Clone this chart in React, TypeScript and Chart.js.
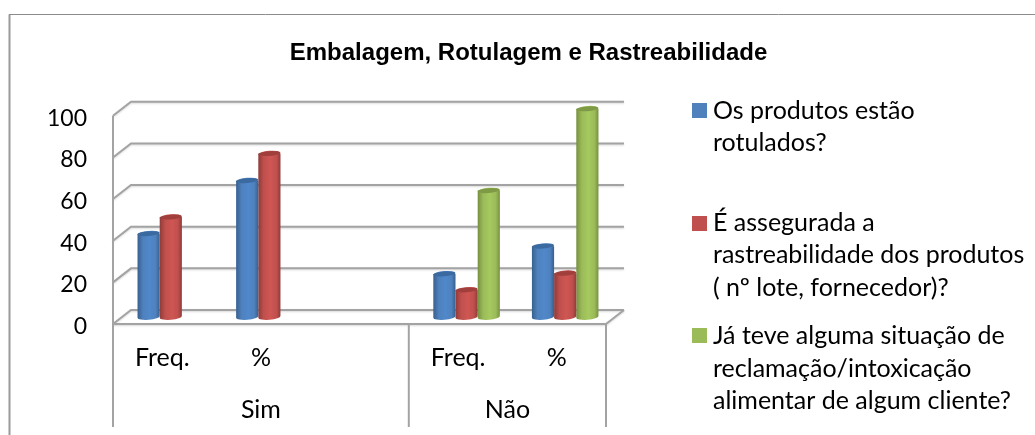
import React, { useEffect, useRef } from "react";
import { Chart, registerables } from "chart.js";

Chart.register(...registerables);

const categories = ["Freq.", "%", "", "Freq.", "%"];
const groupLabels = [
  { text: "Sim", from: 0, to: 2 },
  { text: "Não", from: 3, to: 4 },
];
const produtosRotulados = [40, 65.5, null, 20.7, 34];
const rastreabilidade = [48, 78.5, null, 13, 21];
const reclamacao = [null, null, null, 60.7, 100];
const titleText = "Embalagem, Rotulagem e Rastreabilidade";
const legendLines = [
  ["Os produtos estão", "rotulados?"],
  ["É assegurada a", "rastreabilidade dos produtos", "( nº lote, fornecedor)?"],
  ["Já teve alguma situação de", "reclamação/intoxicação", "alimentar de algum cliente?"],
];
const shades = [
  { fill: "#4F81BD", mid: "#5088cb", edge: "#37608f", cap: "#3b6aa0" },
  { fill: "#C0504D", mid: "#cf5653", edge: "#8f3b39", cap: "#a03f3c" },
  { fill: "#9BBB59", mid: "#a5c95f", edge: "#76913f", cap: "#7f9a45" },
];

const DX = 18;
const DY = -14;
const GRID = "#a3a3a3";
const FONT = "Lato, 'Open Sans', sans-serif";

const decor = {
  id: "decor",
  afterLayout(chart: any) {
    const y = chart.scales.y;
    const orig = y.drawLabels;
    y.drawLabels = function (area: any) {
      chart.ctx.save();
      chart.ctx.translate(0, 2.5);
      orig.call(y, area);
      chart.ctx.restore();
    };
  },
  beforeDatasetsDraw(chart: any) {
    const { ctx, chartArea: a, scales } = chart;
    const y = scales.y;
    ctx.save();
    ctx.strokeStyle = GRID;
    ctx.lineWidth = 2;
    ctx.shadowColor = "rgba(0,0,0,0.15)";
    ctx.shadowBlur = 2;
    ctx.shadowOffsetY = 1;
    y.ticks.forEach((t: any) => {
      const py = y.getPixelForValue(t.value);
      ctx.beginPath();
      ctx.moveTo(a.left, py);
      ctx.lineTo(a.left + DX, py + DY);
      ctx.lineTo(a.right + DX, py + DY);
      ctx.stroke();
    });
    ctx.beginPath();
    ctx.moveTo(a.left, a.bottom);
    ctx.lineTo(a.right, a.bottom);
    ctx.lineTo(a.right + DX, a.bottom + DY);
    ctx.stroke();
    ctx.shadowColor = "transparent";
    // value axis and multi-level category separators
    const x = scales.x;
    const step = (a.right - a.left) / categories.length;
    ctx.lineWidth = 2;
    ctx.beginPath();
    ctx.moveTo(a.left, y.getPixelForValue(100));
    ctx.lineTo(a.left, a.bottom);
    const seps = [groupLabels[0].from, groupLabels[1].from, groupLabels[1].to + 1];
    seps.forEach((i) => {
      const px = x.getPixelForValue(i) - step / 2;
      ctx.moveTo(px, a.bottom);
      ctx.lineTo(px, 427);
    });
    ctx.stroke();
    // outer frame
    ctx.strokeStyle = "#9a9a9a";
    ctx.lineWidth = 2;
    ctx.beginPath();
    ctx.moveTo(9.5, 435);
    ctx.lineTo(9.5, 14.5);
    ctx.stroke();
    ctx.strokeStyle = "#8c8c8c";
    ctx.lineWidth = 1;
    ctx.beginPath();
    ctx.moveTo(9, 14.5);
    ctx.lineTo(1035, 14.5);
    ctx.stroke();
    ctx.restore();
  },
  beforeDatasetDraw(chart: any, args: any) {
    const { ctx } = chart;
    const meta = args.meta;
    const s = shades[args.index];
    ctx.save();
    ctx.translate(DX / 2 - 0.5, DY / 2);
    meta.data.forEach((bar: any, i: number) => {
      const value = chart.data.datasets[args.index].data[i];
      if (value === null || value === undefined) return;
      const { x, y, base, width } = bar.getProps(["x", "y", "base", "width"], true);
      const l = x - width / 2;
      const r = x + width / 2;
      const rx = width / 2;
      const ry = 2.8;
      const g = ctx.createLinearGradient(l, 0, r, 0);
      g.addColorStop(0, s.edge);
      g.addColorStop(0.25, s.fill);
      g.addColorStop(0.55, s.mid);
      g.addColorStop(0.82, s.fill);
      g.addColorStop(1, s.edge);
      ctx.fillStyle = g;
      ctx.beginPath();
      ctx.moveTo(l, y);
      ctx.lineTo(l, base);
      ctx.ellipse(x, base, rx, ry, -0.08, Math.PI, 0, true);
      ctx.lineTo(r, y);
      ctx.closePath();
      ctx.fill();
      ctx.fillStyle = g;
      ctx.beginPath();
      ctx.ellipse(x, y, rx, ry, -0.08, 0, Math.PI * 2);
      ctx.fill();
      ctx.fillStyle = s.cap;
      ctx.beginPath();
      ctx.ellipse(x, y, rx - 1, ry - 0.4, -0.08, 0, Math.PI * 2);
      ctx.fill();
    });
    ctx.restore();
    return false;
  },
  afterDraw(chart: any) {
    const { ctx, scales } = chart;
    const x = scales.x;
    ctx.save();
    ctx.fillStyle = "#000";
    ctx.textBaseline = "alphabetic";
    ctx.font = `25px ${FONT}`;
    ctx.textAlign = "center";
    groupLabels.forEach((g) => {
      const cx = (x.getPixelForValue(g.from) + x.getPixelForValue(g.to)) / 2;
      ctx.fillText(g.text, cx, 418);
    });
    ctx.textAlign = "left";
    const swatchY = [103, 216, 328];
    const baselines = [
      [119, 151],
      [231, 263, 296],
      [344, 377, 409],
    ];
    legendLines.forEach((lines, i) => {
      ctx.fillStyle = shades[i].fill;
      ctx.fillRect(692, swatchY[i], 15, 15);
      ctx.fillStyle = "#000";
      lines.forEach((line, j) => ctx.fillText(line, 713, baselines[i][j]));
    });
    ctx.restore();
  },
};

export default function App() {
  const ref = useRef<HTMLCanvasElement>(null);
  useEffect(() => {
    const chart = new Chart(ref.current as HTMLCanvasElement, {
      type: "bar",
      data: {
        labels: categories,
        datasets: [
          { label: legendLines[0].join(" "), data: produtosRotulados, backgroundColor: shades[0].fill },
          { label: legendLines[1].join(" "), data: rastreabilidade, backgroundColor: shades[1].fill },
          { label: legendLines[2].join(" "), data: reclamacao, backgroundColor: shades[2].fill },
        ],
      },
      plugins: [decor],
      options: {
        responsive: false,
        animation: false,
        layout: { padding: { left: 22, right: 0, top: 0, bottom: 0 } },
        datasets: { bar: { categoryPercentage: 0.675, barPercentage: 1 } },
        plugins: {
          legend: { display: false },
          tooltip: { enabled: false },
          title: {
            display: true,
            text: titleText,
            color: "#000",
            font: { family: "'Liberation Sans', Arial, sans-serif", size: 24, weight: "bold", lineHeight: 1.2 },
            padding: { top: 39, bottom: 48 },
          },
        },
        scales: {
          x: {
            grid: { display: false, drawTicks: false },
            border: { display: false },
            ticks: {
              color: "#000",
              font: { family: FONT, size: 25 },
              padding: 19,
              maxRotation: 0,
              autoSkip: false,
            },
            afterFit(s: any) {
              s.height = 111;
            },
          },
          y: {
            min: 0,
            max: 100,
            grid: { display: false, drawTicks: false },
            border: { display: false },
            ticks: {
              stepSize: 20,
              color: "#000",
              font: { family: FONT, size: 23 },
              padding: 26,
            },
            afterFit(s: any) {
              s.width = 91;
            },
          },
          spacer: {
            type: "linear",
            position: "right",
            grid: { display: false, drawTicks: false },
            border: { display: false },
            ticks: { display: false },
            afterFit(s: any) {
              s.width = 429;
            },
          },
        },
      } as any,
    });
    return () => chart.destroy();
  }, []);
  return (
    <div style={{ position: "fixed", left: 0, top: 0, width: 1035, height: 435, background: "#fff" }}>
      <canvas ref={ref} width={1035} height={435} style={{ display: "block" }} />
    </div>
  );
}
